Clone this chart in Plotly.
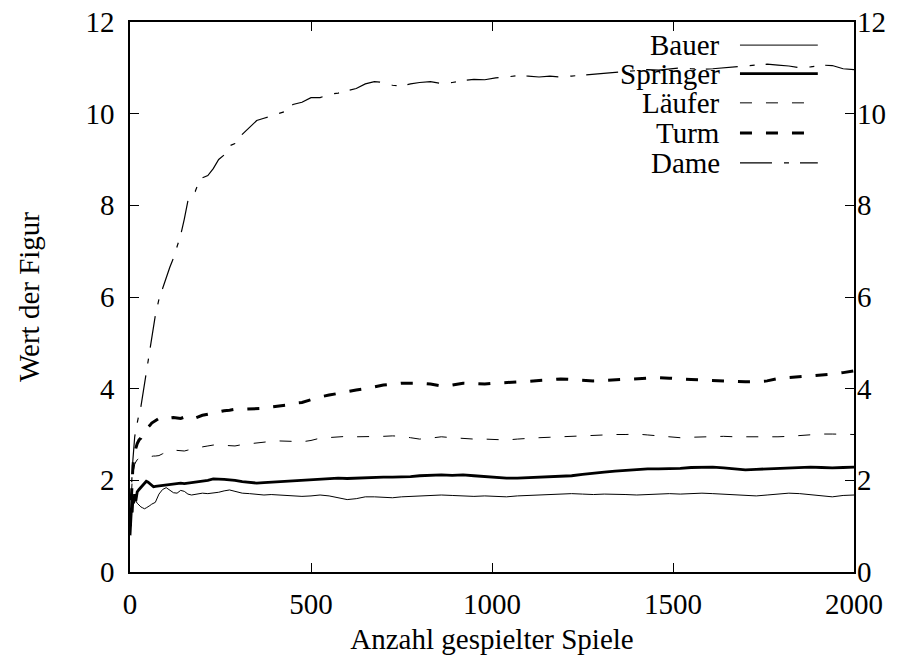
import plotly.graph_objects as go

games = [0, 2, 4, 6, 8, 10, 13, 16, 20, 25,
         30, 35, 40, 45, 50, 55, 60, 65, 70, 80,
         90, 100, 110, 120, 130, 140, 150, 160, 170, 180,
         190, 200, 215, 230, 245, 260, 275, 290, 310, 330,
         350, 370, 390, 410, 430, 450, 475, 500, 525, 550,
         575, 600, 625, 650, 675, 700, 725, 750, 775, 800,
         830, 860, 890, 920, 950, 980, 1010, 1040, 1070, 1100,
         1130, 1160, 1190, 1220, 1250, 1280, 1310, 1340, 1370, 1400,
         1430, 1460, 1490, 1520, 1550, 1580, 1610, 1640, 1670, 1700,
         1730, 1760, 1790, 1820, 1850, 1880, 1910, 1940, 1970, 2000]

bauer = [1.3, 1.0, 1.6, 1.3, 1.7, 1.5, 1.65, 1.55, 1.5, 1.45,
         1.42, 1.4, 1.38, 1.4, 1.42, 1.45, 1.48, 1.5, 1.52, 1.7,
         1.8, 1.84, 1.78, 1.73, 1.72, 1.78, 1.76, 1.7, 1.68, 1.69,
         1.7, 1.72, 1.71, 1.72, 1.74, 1.77, 1.79, 1.76, 1.72, 1.71,
         1.69, 1.68, 1.69, 1.68, 1.68, 1.67, 1.65, 1.66, 1.68, 1.66,
         1.62, 1.58, 1.6, 1.64, 1.64, 1.63, 1.62, 1.64, 1.65, 1.66,
         1.67, 1.68, 1.67, 1.66, 1.65, 1.66, 1.65, 1.64, 1.66, 1.67,
         1.68, 1.68, 1.7, 1.71, 1.7, 1.69, 1.7, 1.7, 1.69, 1.68,
         1.69, 1.7, 1.71, 1.7, 1.71, 1.72, 1.71, 1.7, 1.68, 1.67,
         1.66, 1.68, 1.7, 1.72, 1.71, 1.69, 1.66, 1.64, 1.67, 1.68]

springer = [0.8, 1.1, 1.4, 1.3, 1.6, 1.5, 1.7, 1.55, 1.75, 1.8,
            1.85, 1.9, 1.95, 1.98, 1.96, 1.92, 1.88, 1.86, 1.87, 1.88,
            1.9, 1.9, 1.92, 1.93, 1.94, 1.94, 1.93, 1.94, 1.95, 1.96,
            1.97, 1.98, 2.0, 2.03, 2.03, 2.02, 2.01, 2.0, 1.97, 1.96,
            1.94, 1.95, 1.96, 1.97, 1.97, 1.98, 2.0, 2.02, 2.03, 2.04,
            2.05, 2.04, 2.05, 2.06, 2.06, 2.07, 2.07, 2.07, 2.08, 2.1,
            2.11, 2.12, 2.11, 2.12, 2.1, 2.08, 2.06, 2.05, 2.05, 2.06,
            2.07, 2.07, 2.08, 2.1, 2.13, 2.16, 2.18, 2.2, 2.22, 2.24,
            2.25, 2.25, 2.25, 2.26, 2.28, 2.29, 2.29, 2.27, 2.25, 2.23,
            2.24, 2.25, 2.26, 2.27, 2.28, 2.29, 2.28, 2.27, 2.28, 2.29]

laeufer = [1.1, 1.5, 1.8, 2.0, 2.15, 2.25, 2.35, 2.4, 2.45, 2.48,
           2.49, 2.5, 2.5, 2.51, 2.51, 2.52, 2.52, 2.53, 2.53, 2.54,
           2.58, 2.62, 2.65, 2.66, 2.65, 2.64, 2.64, 2.66, 2.68, 2.7,
           2.72, 2.73, 2.75, 2.77, 2.77, 2.76, 2.75, 2.75, 2.78, 2.8,
           2.82, 2.83, 2.85, 2.86, 2.86, 2.85, 2.84, 2.87, 2.92, 2.93,
           2.95, 2.96, 2.95, 2.95, 2.95, 2.96, 2.97, 2.96, 2.93, 2.9,
           2.92, 2.95, 2.93, 2.91, 2.9, 2.9, 2.89, 2.88, 2.9, 2.92,
           2.93, 2.94, 2.95, 2.97, 2.98, 2.99, 2.99, 3.0, 3.0, 3.01,
           2.99, 2.97, 2.95, 2.93, 2.94, 2.95, 2.95, 2.96, 2.95, 2.95,
           2.95, 2.94, 2.95, 2.96, 2.98, 2.99, 3.01, 3.01, 3.0, 3.0]

turm = [1.0, 1.4, 1.8, 2.1, 2.3, 2.45, 2.6, 2.7, 2.8, 2.88,
        2.92, 3.0, 3.08, 3.12, 3.15, 3.2, 3.25, 3.28, 3.3, 3.35,
        3.38, 3.38, 3.36, 3.37, 3.36, 3.35, 3.38, 3.34, 3.33, 3.36,
        3.38, 3.42, 3.44, 3.47, 3.5, 3.52, 3.53, 3.55, 3.55, 3.56,
        3.56, 3.57, 3.6, 3.62, 3.64, 3.68, 3.7, 3.76, 3.82, 3.86,
        3.9, 3.93, 3.97, 4.0, 4.04, 4.08, 4.1, 4.12, 4.12, 4.12,
        4.1, 4.06, 4.08, 4.12, 4.11, 4.1, 4.12, 4.13, 4.15, 4.16,
        4.18, 4.2, 4.21, 4.2, 4.18, 4.17, 4.18, 4.19, 4.2, 4.21,
        4.22, 4.24, 4.23, 4.21, 4.2, 4.19, 4.18, 4.16, 4.15, 4.15,
        4.15, 4.17, 4.22, 4.24, 4.26, 4.27, 4.3, 4.32, 4.35, 4.39]

dame = [1.0, 1.5, 1.9, 2.2, 2.45, 2.7, 2.95, 3.1, 3.3, 3.45,
        3.6, 3.85, 4.1, 4.4, 4.65, 4.95, 5.2, 5.4, 5.6, 5.95,
        6.2, 6.4, 6.65, 6.85, 7.1, 7.35, 7.7, 8.1, 8.25, 8.3,
        8.5, 8.6, 8.65, 8.8, 9.0, 9.1, 9.3, 9.35, 9.55, 9.7,
        9.85, 9.9, 9.95, 10.0, 10.05, 10.2, 10.25, 10.35, 10.35, 10.42,
        10.45, 10.5, 10.55, 10.65, 10.7, 10.68, 10.62, 10.6, 10.65, 10.68,
        10.7, 10.66, 10.68, 10.72, 10.75, 10.74, 10.78, 10.8, 10.83, 10.82,
        10.8, 10.82, 10.8, 10.82, 10.84, 10.86, 10.87, 10.9, 10.92, 10.94,
        10.96, 10.95, 10.98, 11.0, 10.98, 10.97, 10.98, 11.0, 11.02, 11.03,
        11.05, 11.08, 11.06, 11.04, 11.0, 11.02, 11.06, 11.05, 10.98, 10.96]

series_names = ["Bauer", "Springer", "Läufer", "Turm", "Dame"]
series_values = [bauer, springer, laeufer, turm, dame]
styles = [
    dict(width=1.0, dash="solid"),
    dict(width=2.8, dash="solid"),
    dict(width=1.0, dash="12px,14px"),
    dict(width=3.0, dash="12px,14px"),
    dict(width=1.2, dash="32px,12px,5px,11px"),
]

FONT = "Liberation Serif"
FS = 29

fig = go.Figure()
for name, vals, st in zip(series_names, series_values, styles):
    fig.add_trace(go.Scatter(x=games, y=vals, mode="lines", name=name,
                             line=dict(color="black", **st), showlegend=False))

# dummy trace for right-side y axis labels
fig.add_trace(go.Scatter(x=[None], y=[None], yaxis="y2", showlegend=False))

# gnuplot-style key: text right-aligned, line sample to its right
key_y = [0.958, 0.906, 0.853, 0.798, 0.744]
for name, st, ky in zip(series_names, styles, key_y):
    fig.add_annotation(x=0.818, y=ky, xref="paper", yref="paper", text=name,
                       showarrow=False, xanchor="right", yanchor="middle",
                       font=dict(family=FONT, size=FS, color="black"))
    fig.add_shape(type="line", xref="paper", yref="paper",
                  x0=0.8425, x1=0.95, y0=ky, y1=ky,
                  line=dict(color="black", width=st["width"], dash=st["dash"]))

axis_common = dict(showgrid=False, zeroline=False, showline=True, linecolor="black",
                   linewidth=1.5, ticks="inside", ticklen=9, tickwidth=1,
                   tickcolor="black", mirror="ticks", automargin=False,
                   ticklabeloverflow="allow",
                   tickfont=dict(family=FONT, size=FS, color="black"))

fig.update_layout(
    width=915, height=659,
    margin=dict(l=130, r=61, t=22, b=87),
    paper_bgcolor="white", plot_bgcolor="white",
    font=dict(family=FONT, size=FS, color="black"),
    xaxis=dict(range=[0, 2000], tickvals=[0, 500, 1000, 1500, 2000],
               title=dict(text="Anzahl gespielter Spiele", standoff=10,
                          font=dict(family=FONT, size=FS)),
               ticklabelstandoff=5, **axis_common),
    yaxis=dict(range=[0, 12], tickvals=[0, 2, 4, 6, 8, 10, 12],
               title=dict(text="Wert der Figur", standoff=37,
                          font=dict(family=FONT, size=FS)),
               ticklabelstandoff=8, **axis_common),
    yaxis2=dict(range=[0, 12], tickvals=[0, 2, 4, 6, 8, 10, 12], overlaying="y",
                side="right", showgrid=False, zeroline=False, showline=False,
                ticks="", ticklabelstandoff=2, automargin=False,
                ticklabeloverflow="allow",
                tickfont=dict(family=FONT, size=FS, color="black")),
)

fig.write_html("out.html",
               config={"displayModeBar": False},
               post_script="document.body.style.margin='0';document.body.style.overflow='hidden';")
